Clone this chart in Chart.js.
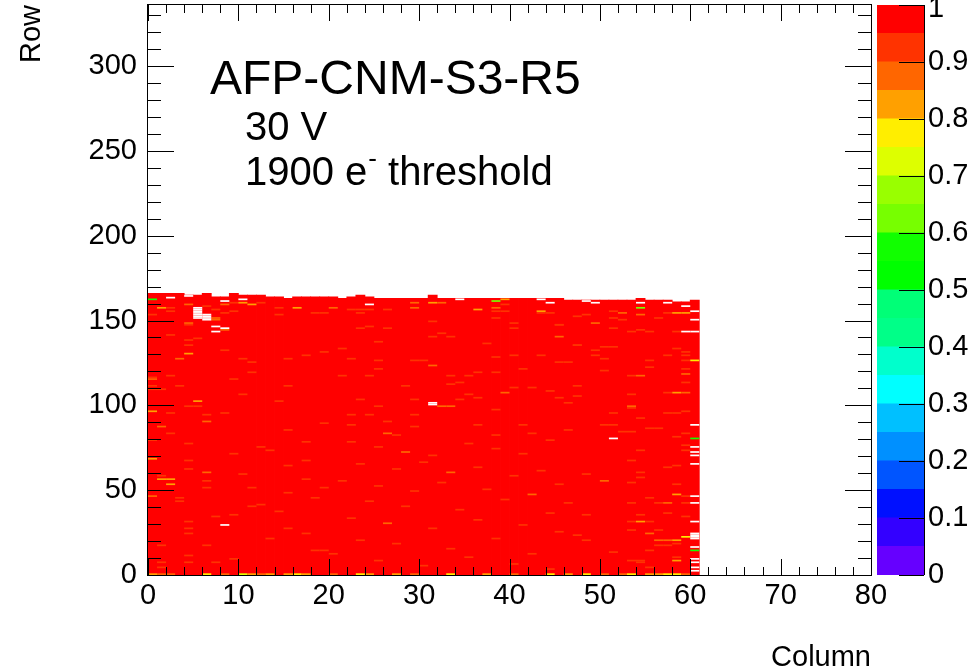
<!DOCTYPE html>
<html>
<head>
<meta charset="utf-8">
<title>AFP-CNM-S3-R5 efficiency map</title>
<script src="https://cdn.jsdelivr.net/npm/chart.js@4.4.1/dist/chart.umd.min.js"></script>
<style>
  html, body { margin: 0; padding: 0; background: #fff; }
  #wrap { position: relative; width: 974px; height: 672px; }
  #mapChart { position: absolute; left: 0; top: 0; }
  #zChart { position: absolute; left: 871px; top: 0; }
</style>
</head>
<body>
<div id="wrap">
  <canvas id="mapChart" width="974" height="672"></canvas>
  <canvas id="zChart" width="103" height="672"></canvas>
</div>
<script>
// ─── data ───
const FONT = '"Liberation Sans", Arial, Helvetica, sans-serif';

const xMajorTicks = [0, 10, 20, 30, 40, 50, 60, 70, 80];
const yMajorTicks = [0, 50, 100, 150, 200, 250, 300];
const zTicks = [0, 0.1, 0.2, 0.3, 0.4, 0.5, 0.6, 0.7, 0.8, 0.9, 1];
const zLevels = [0, 0.05, 0.1, 0.15, 0.2, 0.25, 0.3, 0.35, 0.4, 0.45, 0.5,
                 0.55, 0.6, 0.65, 0.7, 0.75, 0.8, 0.85, 0.9, 0.95, 1];
// ROOT rainbow palette, 20 contours, bottom -> top
const palette = ['#6600ff', '#3300ff', '#0010ff', '#0055ff', '#0090ff', '#00c0ff', '#00ffff',
                 '#00ffcc', '#00ff88', '#00ff77', '#00ff00', '#11ff00', '#77ff00', '#99ff00',
                 '#ddff00', '#ffee00', '#ffa000', '#ff6600', '#ff3300', '#ff0000'];

const sensorName = 'AFP-CNM-S3-R5';
const biasLabel = '30 V';

// highest filled row in each column 0..60
const colTop = [165, 165, 165, 165, 164, 164, 165, 163, 163, 165,
                164, 164, 164, 163, 163, 162, 163, 163, 163, 163,
                163, 162, 163, 164, 163, 162, 162, 162, 162, 162,
                162, 164, 162, 162, 162, 162, 162, 162, 162, 162,
                162, 162, 162, 162, 162, 162, 161, 161, 161, 161,
                161, 161, 161, 161, 162, 161, 161, 161, 160, 160, 161];

// pixels below full efficiency: [column, row, efficiency]
const lowCells = [
  [0, 115, 0.88], [0, 111, 0.93], [0, 109, 0.93], [1, 109, 0.93], [3, 111, 0.93], [5, 102, 0.83],
  [4, 99, 0.93], [5, 99, 0.93], [0, 96, 0.83], [2, 95, 0.93], [6, 94, 0.93], [6, 90, 0.88],
  [1, 87, 0.88], [2, 83, 0.93], [0, 79, 0.93], [4, 77, 0.93], [12, 75, 0.93], [13, 73, 0.93],
  [0, 68, 0.8], [4, 67, 0.93], [17, 67, 0.93], [4, 62, 0.93], [6, 60, 0.88], [10, 59, 0.93],
  [1, 58, 0.93], [1, 56, 0.83], [2, 56, 0.83], [6, 55, 0.93], [2, 53, 0.8], [6, 51, 0.93],
  [11, 51, 0.93], [19, 51, 0.93], [0, 46, 0.88], [3, 45, 0.93], [3, 43, 0.93], [11, 40, 0.93],
  [7, 34, 0.93], [4, 31, 0.93], [4, 27, 0.93], [4, 24, 0.93], [17, 24, 0.93], [1, 17, 0.93],
  [6, 17, 0.93], [18, 14, 0.93], [4, 11, 0.93], [1, 7, 0.93], [4, 7, 0.93], [7, 7, 0.93],
  [1, 4, 0.93], [15, 111, 0.93], [10, 106, 0.93], [14, 102, 0.93], [8, 95, 0.93], [19, 89, 0.93],
  [15, 85, 0.93], [17, 78, 0.93], [9, 71, 0.93], [15, 64, 0.93], [17, 56, 0.93], [15, 48, 0.93],
  [18, 45, 0.93], [12, 41, 0.93], [14, 37, 0.93], [9, 35, 0.93], [15, 27, 0.93], [13, 21, 0.93],
  [19, 14, 0.93], [20, 12, 0.93], [9, 9, 0.93],
  [0, 162, 0.57], [1, 157, 0.83], [2, 157, 0.93], [2, 155, 0.93], [4, 159, 0.88], [6, 158, 0.93],
  [7, 156, 0.93], [7, 151, 0.88], [7, 150, 0.88], [8, 159, 0.88], [8, 154, 0.93], [9, 160, 0.93],
  [10, 160, 0.8], [11, 159, 0.8], [12, 160, 0.93], [14, 157, 0.93], [14, 153, 0.93], [16, 157, 0.8],
  [18, 154, 0.93], [19, 154, 0.93], [20, 157, 0.88], [0, 153, 0.93], [4, 148, 0.88], [4, 147, 0.93],
  [5, 139, 0.93], [8, 144, 0.88], [9, 155, 0.93], [2, 141, 0.93], [4, 138, 0.93], [4, 135, 0.93],
  [8, 132, 0.93], [3, 127, 0.88], [4, 130, 0.83], [0, 116, 0.93], [2, 117, 0.93], [10, 127, 0.93],
  [11, 125, 0.93], [11, 119, 0.93], [9, 115, 0.93], [15, 127, 0.93], [17, 129, 0.93], [19, 131, 0.93],
  [29, 160, 0.88], [29, 157, 0.88], [31, 160, 0.83], [32, 160, 0.88], [38, 161, 0.62], [39, 162, 0.8],
  [22, 156, 0.93], [23, 156, 0.93], [24, 156, 0.93], [26, 156, 0.93], [36, 156, 0.8], [38, 157, 0.88],
  [38, 155, 0.93], [39, 159, 0.93], [39, 155, 0.93], [43, 155, 0.8], [43, 154, 0.93], [44, 154, 0.93],
  [23, 154, 0.93], [38, 151, 0.93], [47, 152, 0.93], [31, 149, 0.93], [40, 148, 0.93], [45, 147, 0.93],
  [24, 146, 0.93], [23, 145, 0.93], [26, 145, 0.93], [40, 145, 0.93], [32, 142, 0.93], [31, 140, 0.93],
  [33, 140, 0.93], [45, 140, 0.88], [25, 137, 0.93], [37, 136, 0.93], [47, 135, 0.93], [21, 133, 0.93],
  [38, 128, 0.93], [40, 129, 0.93], [43, 129, 0.93], [22, 127, 0.93], [25, 126, 0.93], [29, 126, 0.93],
  [30, 126, 0.93], [45, 125, 0.93], [31, 123, 0.88], [25, 121, 0.93], [41, 121, 0.93], [36, 119, 0.93],
  [38, 119, 0.93], [33, 117, 0.93], [35, 117, 0.93], [21, 117, 0.93], [24, 117, 0.93], [34, 113, 0.93],
  [33, 112, 0.93], [28, 111, 0.93], [47, 111, 0.93], [40, 110, 0.93], [42, 110, 0.93], [44, 108, 0.93],
  [39, 107, 0.88], [35, 106, 0.93], [36, 104, 0.93], [45, 104, 0.93], [34, 103, 0.93], [23, 103, 0.93],
  [29, 103, 0.93], [46, 101, 0.93], [32, 99, 0.88], [33, 99, 0.88], [25, 99, 0.93], [38, 97, 0.93],
  [22, 94, 0.93], [24, 94, 0.93], [29, 94, 0.93], [26, 90, 0.93], [22, 88, 0.93], [36, 88, 0.93],
  [41, 88, 0.93], [29, 87, 0.93], [26, 83, 0.88], [42, 83, 0.93], [27, 82, 0.93], [38, 82, 0.93],
  [22, 78, 0.93], [25, 75, 0.93], [28, 72, 0.88], [31, 70, 0.93], [35, 77, 0.93], [38, 74, 0.93],
  [41, 71, 0.93], [44, 79, 0.93], [23, 65, 0.93], [27, 62, 0.93], [30, 66, 0.93], [33, 60, 0.88],
  [36, 63, 0.93], [40, 58, 0.93], [43, 61, 0.93], [21, 55, 0.93], [25, 52, 0.93], [29, 49, 0.93],
  [32, 54, 0.93], [37, 50, 0.93], [42, 47, 0.88], [45, 53, 0.93], [24, 43, 0.93], [28, 40, 0.93],
  [34, 38, 0.93], [39, 44, 0.93], [44, 36, 0.93], [22, 33, 0.93], [26, 30, 0.88], [31, 27, 0.93],
  [36, 32, 0.93], [41, 29, 0.93], [45, 25, 0.93], [23, 20, 0.93], [27, 18, 0.93], [33, 15, 0.93],
  [38, 21, 0.93], [42, 12, 0.93], [25, 8, 0.93], [30, 5, 0.93], [35, 10, 0.93], [40, 6, 0.93], [44, 3, 0.93],
  [59, 113, 0.93], [58, 107, 0.8], [59, 107, 0.88], [57, 107, 0.93], [53, 106, 0.93], [47, 105, 0.93],
  [53, 99, 0.88], [53, 98, 0.93], [59, 96, 0.93], [51, 95, 0.93], [57, 95, 0.93], [58, 95, 0.93],
  [54, 92, 0.93], [50, 88, 0.93], [51, 88, 0.93], [55, 86, 0.93], [56, 86, 0.93], [46, 85, 0.93],
  [52, 84, 0.93], [53, 84, 0.93], [59, 83, 0.93], [58, 81, 0.93], [60, 80, 0.57], [59, 76, 0.93],
  [59, 73, 0.93], [54, 73, 0.93], [53, 67, 0.93], [58, 64, 0.93], [57, 63, 0.93], [48, 59, 0.93],
  [54, 60, 0.93], [54, 57, 0.93], [50, 55, 0.88], [53, 54, 0.93], [58, 53, 0.93], [58, 47, 0.83],
  [55, 45, 0.93], [59, 46, 0.93], [46, 42, 0.93], [53, 42, 0.93], [56, 42, 0.93], [57, 42, 0.88],
  [59, 42, 0.93], [57, 36, 0.93], [48, 35, 0.93], [54, 35, 0.93], [59, 34, 0.93], [54, 31, 0.83],
  [53, 31, 0.93], [55, 31, 0.93], [53, 26, 0.93], [56, 26, 0.93], [55, 24, 0.88], [47, 23, 0.93],
  [59, 22, 0.78], [48, 20, 0.93], [56, 20, 0.88], [57, 20, 0.88], [58, 20, 0.8], [58, 18, 0.93],
  [56, 17, 0.93], [57, 17, 0.93], [55, 14, 0.93], [51, 13, 0.93], [58, 10, 0.93], [58, 8, 0.8],
  [53, 8, 0.93], [54, 8, 0.93], [54, 7, 0.93], [55, 4, 0.93], [60, 14, 0.57],
  [54, 157, 0.62], [45, 147, 0.93], [46, 125, 0.93], [47, 135, 0.93], [48, 153, 0.93], [49, 148, 0.88],
  [49, 132, 0.93], [49, 129, 0.93], [50, 134, 0.93], [50, 127, 0.93], [50, 120, 0.93], [51, 155, 0.93],
  [51, 151, 0.93], [51, 145, 0.93], [51, 134, 0.93], [52, 154, 0.88], [52, 150, 0.93], [53, 143, 0.93],
  [53, 117, 0.93], [54, 153, 0.88], [54, 144, 0.93], [54, 117, 0.88], [55, 143, 0.93], [55, 126, 0.93],
  [55, 122, 0.93], [56, 151, 0.93], [57, 154, 0.93], [57, 129, 0.93], [58, 154, 0.8], [59, 154, 0.8],
  [58, 143, 0.93], [58, 133, 0.93], [59, 131, 0.93], [59, 129, 0.93], [59, 126, 0.93], [59, 121, 0.93],
  [59, 118, 0.88], [60, 126, 0.78],
  // bottom row
  [0, 0, 0.83], [1, 0, 0.88], [2, 0, 0.88], [6, 0, 0.78], [8, 0, 0.88], [10, 0, 0.72], [11, 0, 0.83],
  [12, 0, 0.88], [13, 0, 0.83], [15, 0, 0.8], [16, 0, 0.78], [17, 0, 0.8], [20, 0, 0.88], [23, 0, 0.78],
  [24, 0, 0.8], [27, 0, 0.8], [29, 0, 0.88], [33, 0, 0.78], [37, 0, 0.8], [40, 0, 0.88], [44, 0, 0.78],
  [46, 0, 0.8], [48, 0, 0.78], [50, 0, 0.88], [52, 0, 0.88], [53, 0, 0.78], [55, 0, 0.8], [56, 0, 0.8],
  [57, 0, 0.78], [58, 0, 0.78], [59, 0, 0.88]
];

// pixels with no hits (left white): [column, row]
const deadCells = [
  [5, 151], [5, 152], [5, 153], [5, 154], [5, 155], [5, 156], [5, 157],
  [6, 150], [6, 151], [6, 152], [6, 153], [7, 146], [7, 143], [8, 145], [8, 29],
  [2, 163], [4, 164], [8, 161], [10, 162], [24, 159], [34, 162], [43, 162], [44, 160],
  [31, 100], [31, 101], [51, 80], [48, 161], [49, 160], [54, 160], [57, 160], [59, 158],
  [60, 155], [60, 150], [59, 143], [60, 143], [60, 88], [60, 75], [60, 72], [60, 70],
  [60, 65], [60, 46], [60, 42], [60, 31], [60, 24], [60, 23], [60, 22], [60, 21],
  [60, 16], [60, 9], [60, 7], [60, 4], [60, 2]
];

// ─── helpers ───
const colorFor = v => {
  if (v <= 0) return '#ffffff';
  return palette[Math.min(palette.length - 1, Math.floor(v * 20 + 1e-9))];
};

const baseData = colTop.map((top, c) => ({ x: c + 0.5, y: [0, top + 1], v: 1 }));
const cellData = lowCells.map(([c, r, v]) => ({ x: c + 0.5, y: [r, r + 1], v }))
  .concat(deadCells.map(([c, r]) => ({ x: c + 0.5, y: [r, r + 1], v: 0 })));

// ROOT style frame with inward ticks on all four sides
const frameTicks = {
  id: 'frameTicks',
  afterDraw(chart) {
    const { ctx, chartArea: a, scales: { x, y } } = chart;
    ctx.save();
    ctx.strokeStyle = '#000';
    ctx.lineWidth = 1;
    ctx.beginPath();
    for (let v = 0; v <= 80; v += 2) {
      const px = Math.round(x.getPixelForValue(v)) + 0.5;
      const len = v % 10 === 0 ? 16 : 8;
      ctx.moveTo(px, a.bottom); ctx.lineTo(px, a.bottom - len);
      ctx.moveTo(px, a.top); ctx.lineTo(px, a.top + len);
    }
    for (let v = 0; v <= 330; v += 10) {
      const py = Math.round(y.getPixelForValue(v)) + 0.5;
      const len = v % 50 === 0 ? 26 : 13;
      ctx.moveTo(a.left, py); ctx.lineTo(a.left + len, py);
      ctx.moveTo(a.right, py); ctx.lineTo(a.right - len, py);
    }
    ctx.stroke();
    ctx.strokeRect(a.left - 0.5, a.top - 0.5, a.right - a.left + 1, a.bottom - a.top + 1);
    ctx.restore();
  }
};

const labelText = {
  id: 'labelText',
  afterDraw(chart) {
    const ctx = chart.ctx;
    ctx.save();
    ctx.fillStyle = '#000';
    ctx.textAlign = 'left';
    ctx.textBaseline = 'alphabetic';
    ctx.font = `48px ${FONT}`;
    ctx.fillText(sensorName, 210, 94);
    ctx.font = `40px ${FONT}`;
    ctx.fillText(biasLabel, 245, 140);
    let x = 245;
    ctx.fillText('1900 e', x, 185);
    x += ctx.measureText('1900 e').width + 1;
    ctx.font = `26px ${FONT}`;
    ctx.fillText('-', x, 167);
    x += ctx.measureText('-').width;
    ctx.font = `40px ${FONT}`;
    ctx.fillText(' threshold', x, 185);
    ctx.restore();
  }
};

// ─── efficiency map ───
new Chart(document.getElementById('mapChart'), {
  type: 'bar',
  data: {
    datasets: [
      { data: cellData, order: 1, inflateAmount: 0, backgroundColor: c => colorFor(c.raw.v) },
      { data: baseData, order: 2, inflateAmount: 0.4, backgroundColor: colorFor(1) }
    ]
  },
  options: {
    responsive: false,
    animation: false,
    devicePixelRatio: 1,
    grouped: false,
    barPercentage: 1,
    categoryPercentage: 1,
    borderWidth: 0,
    layout: { padding: { top: 5, right: 103, bottom: 0, left: 0 } },
    plugins: { legend: { display: false }, tooltip: { enabled: false } },
    scales: {
      x: {
        type: 'linear', min: 0, max: 80, offset: false,
        afterBuildTicks: s => { s.ticks = xMajorTicks.map(v => ({ value: v })); },
        afterFit: s => { s.height = 97; s.paddingLeft = 0; s.paddingRight = 0; },
        grid: { display: false, drawTicks: false },
        border: { display: false },
        ticks: { padding: 6, maxRotation: 0, autoSkip: false, color: '#000',
                 font: { family: FONT, size: 29, lineHeight: 1 } },
        title: { display: true, text: 'Column', align: 'end', color: '#000', padding: 0,
                 font: { family: FONT, size: 29, lineHeight: 1 } }
      },
      y: {
        type: 'linear', min: 0, max: 336,
        afterBuildTicks: s => { s.ticks = yMajorTicks.map(v => ({ value: v })); },
        afterFit: s => { s.width = 148; s.paddingTop = 0; s.paddingBottom = 0; },
        grid: { display: false, drawTicks: false },
        border: { display: false },
        ticks: { padding: 11, autoSkip: false, color: '#000',
                 font: { family: FONT, size: 29, lineHeight: 1 } },
        title: { display: true, text: 'Row', align: 'end', color: '#000', padding: { top: 17, bottom: 0 },
                 font: { family: FONT, size: 29, lineHeight: 1 } }
      }
    }
  },
  plugins: [frameTicks, labelText]
});

// ─── colour scale ───
const zAxisTicks = {
  id: 'zAxisTicks',
  afterDraw(chart) {
    const { ctx, chartArea: a, scales: { y } } = chart;
    ctx.save();
    ctx.strokeStyle = '#000';
    ctx.lineWidth = 1;
    ctx.beginPath();
    ctx.moveTo(a.right + 0.5, a.top); ctx.lineTo(a.right + 0.5, a.bottom);
    zTicks.forEach(v => {
      const py = Math.round(y.getPixelForValue(v)) + 0.5;
      ctx.moveTo(a.right, py); ctx.lineTo(a.right - 25, py);
    });
    ctx.stroke();
    ctx.restore();
  }
};

new Chart(document.getElementById('zChart'), {
  type: 'bar',
  data: {
    labels: ['z'],
    datasets: palette.map((c, i) => ({ data: [[zLevels[i], zLevels[i + 1]]], backgroundColor: c }))
  },
  options: {
    responsive: false,
    animation: false,
    devicePixelRatio: 1,
    grouped: false,
    barPercentage: 1,
    categoryPercentage: 1,
    borderWidth: 0,
    inflateAmount: 0.4,
    layout: { padding: { top: 5, right: 0, bottom: 97, left: 6 } },
    plugins: { legend: { display: false }, tooltip: { enabled: false } },
    scales: {
      x: { display: false },
      y: {
        position: 'right', min: 0, max: 1,
        afterBuildTicks: s => { s.ticks = zTicks.map(v => ({ value: v })); },
        afterFit: s => { s.width = 50; s.paddingTop = 0; s.paddingBottom = 0; },
        grid: { display: false, drawTicks: false },
        border: { display: false },
        ticks: {
          padding: 4, autoSkip: false, color: '#000',
          // top label is pushed down a little so it stays inside the canvas, as ROOT does
          callback: v => (v === 1 ? ['', '1'] : String(v)),
          font: c => ({ family: FONT, size: 29, lineHeight: c.tick && c.tick.value === 1 ? 0.3 : 1 })
        }
      }
    }
  },
  plugins: [zAxisTicks]
});
</script>
</body>
</html>
